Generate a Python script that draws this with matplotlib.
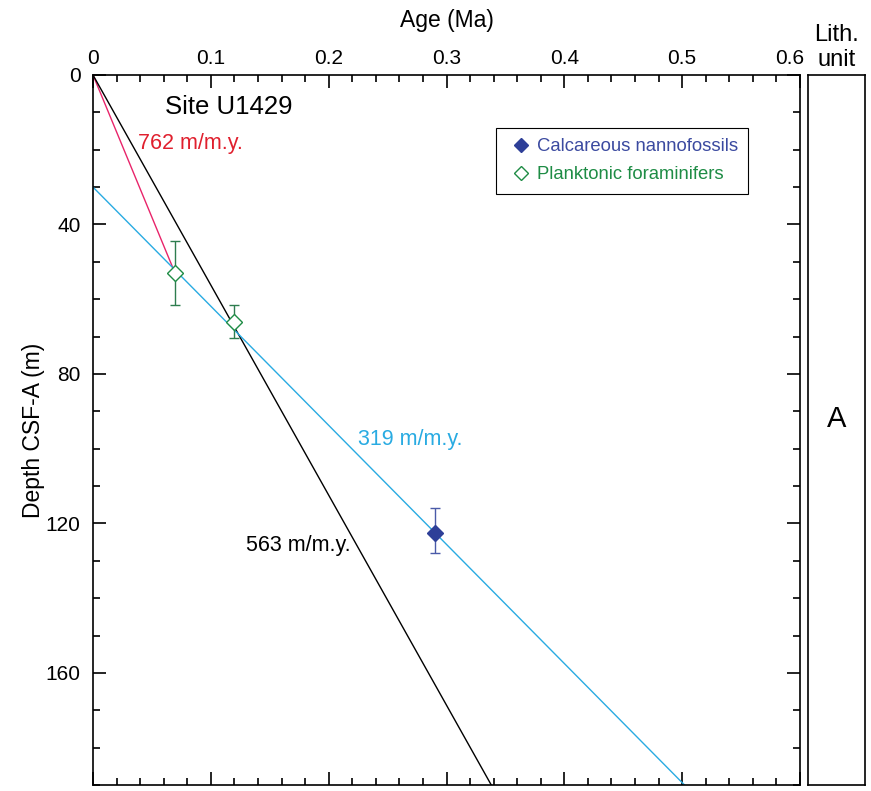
import matplotlib.pyplot as plt
import matplotlib.transforms as mtransforms
from matplotlib.ticker import MultipleLocator

plt.rcParams['font.family'] = ['Liberation Sans', 'DejaVu Sans']

# datums
foram_age = [0.07, 0.12]
foram_depth = [53.0, 66.0]
foram_err_lo = [8.5, 4.5]
foram_err_hi = [8.5, 4.5]

nanno_age = [0.29]
nanno_depth = [122.5]
nanno_err_lo = [6.5]
nanno_err_hi = [5.5]

# sedimentation rate lines: (ages, depths)
red_age = [0.0, 0.07]
red_depth = [0.0, 53.3]
black_age = [0.0, 0.338]
black_depth = [0.0, 190.0]
blue_age = [0.0, 0.502]
blue_depth = [30.0, 190.0]

fig = plt.figure(figsize=(8.71, 7.91), dpi=100)
ax = fig.add_axes([93/871, 1-785/791, 707/871, 710/791])
ax2 = fig.add_axes([808/871, 1-785/791, 57/871, 710/791])

ax.plot(red_age, red_depth, color="#e8246a", lw=1)
ax.plot(black_age, black_depth, color="black", lw=1)
ax.plot(blue_age, blue_depth, color="#29abe2", lw=1)

ax.errorbar(foram_age, foram_depth, yerr=[foram_err_lo, foram_err_hi], fmt="D",
            mfc="white", mec="#1e8c45", ecolor="#2e7d4f", ms=8.5, mew=1,
            elinewidth=1, capsize=3.5, capthick=1, zorder=5)
ax.errorbar(nanno_age, nanno_depth, yerr=[nanno_err_lo, nanno_err_hi], fmt="D",
            mfc="#2e3f98", mec="#2e3f98", ecolor="#4a5aa8", ms=8.5,
            elinewidth=1, capsize=3.5, capthick=1, zorder=5)

ax.set_xlim(0, 0.6)
ax.set_ylim(190, 0)
ax.xaxis.set_major_locator(MultipleLocator(0.1))
ax.xaxis.set_minor_locator(MultipleLocator(0.02))
ax.yaxis.set_major_locator(MultipleLocator(40))
ax.yaxis.set_minor_locator(MultipleLocator(10))
ax.xaxis.set_major_formatter(plt.FuncFormatter(lambda v, p: "0" if v == 0 else f"{v:g}"))
ax.tick_params(which="both", direction="in", top=True, right=True,
               labeltop=True, labelbottom=False, labelsize=15, width=1.2)
ax.tick_params(which="major", length=9.5)
ax.tick_params(which="minor", length=5)
ax.tick_params(axis="x", pad=5)
ax.tick_params(axis="y", pad=9)
for s in ax.spines.values():
    s.set_linewidth(1.2)
ax.xaxis.set_label_position("top")
ax.set_xlabel("Age (Ma)", fontsize=16.5, labelpad=16)
ax.set_ylabel("Depth CSF-A (m)", fontsize=16.5, labelpad=0)

# nudge the last top label left so it clears the lith column
fig.canvas.draw()
last = [t for t in ax.xaxis.get_major_ticks() if abs(t.get_loc() - 0.6) < 1e-9]
for t in last:
    t.label2.set_transform(t.label2.get_transform() +
                           mtransforms.ScaledTranslation(-10/100, 0, fig.dpi_scale_trans))

ax.text(0.061, 8.5, "Site U1429", fontsize=18.5, va="center")
ax.text(0.038, 18.4, "762 m/m.y.", fontsize=15.5, color="#e0202e", va="center")
ax.text(0.2246, 97.6, "319 m/m.y.", fontsize=15.5, color="#29abe2", va="center")
ax.text(0.1297, 126, "563 m/m.y.", fontsize=15.5, color="black", va="center")

h1 = ax.plot([], [], "D", color="#2e3f98", ms=7)[0]
h2 = ax.plot([], [], "D", mfc="white", mec="#1e8c45", ms=7)[0]
leg = ax.legend([h1, h2], ["Calcareous nannofossils", "Planktonic foraminifers"],
                loc="upper right", bbox_to_anchor=(0.9265, 0.925), borderaxespad=0,
                fontsize=13.3, fancybox=False, edgecolor="black", framealpha=1,
                handlelength=1.6, handletextpad=0.05, borderpad=0.55, labelspacing=0.6)
leg.get_frame().set_linewidth(0.8)
for t, c in zip(leg.get_texts(), ["#3b4aa0", "#1e8c45"]):
    t.set_color(c)

ax2.set_ylim(190, 0)
ax2.set_xlim(0, 1)
ax2.set_xticks([])
ax2.set_yticks([])
for s in ax2.spines.values():
    s.set_linewidth(1.2)
ax2.text(0.5, 92, "A", fontsize=21, ha="center", va="center")
ax2.set_title("Lith.\nunit", fontsize=17, pad=6.5, linespacing=1.15)

fig.savefig("out.png", dpi=100)
